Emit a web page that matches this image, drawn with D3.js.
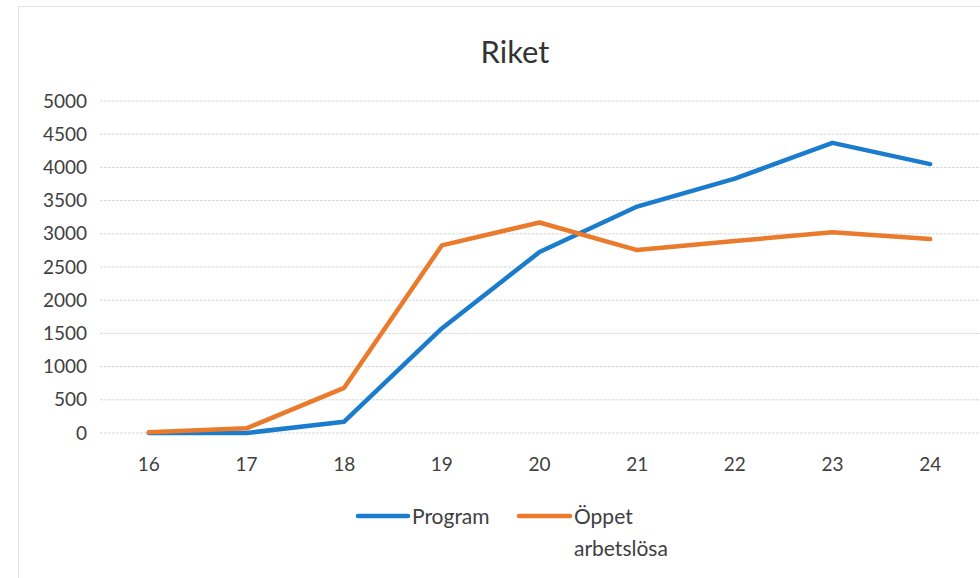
<!DOCTYPE html>
<html><head><meta charset="utf-8">
<script src="https://cdn.jsdelivr.net/npm/d3@7/dist/d3.min.js"></script>
<style>body{margin:0;background:#fff;}svg{display:block;}</style>
</head><body>
<svg id="c" width="980" height="578"></svg>
<script>
const categories = ["16","17","18","19","20","21","22","23","24"];
const program = [0, 0, 170, 1575, 2725, 3410, 3830, 4370, 4050];
const oppet = [10, 70, 680, 2825, 3170, 2755, 2890, 3025, 2920];
const yTicks = [0,500,1000,1500,2000,2500,3000,3500,4000,4500,5000];
const seriesNames = ["Program", "Öppet arbetslösa"];

const svg = d3.select("#c");
const font = "Lato, 'Open Sans', sans-serif";
const M = {left:100, right:979, top:101, bottom:433};

svg.append("rect").attr("x",18.5).attr("y",6.5).attr("width",970).attr("height",580)
  .attr("fill","#fff").attr("stroke","#e4e4e4");

const x = d3.scaleBand().domain(categories).range([M.left, M.right]);
const y = d3.scaleLinear().domain([0,5000]).range([M.bottom, M.top]);

svg.append("g").selectAll("line").data(yTicks).join("line")
  .attr("x1",M.left).attr("x2",M.right)
  .attr("y1",d=>y(d)).attr("y2",d=>y(d))
  .attr("stroke","#d9d9d9").attr("stroke-width",1).attr("stroke-dasharray","3,1");

const yAxis = svg.append("g").attr("transform",`translate(${M.left},0)`)
  .call(d3.axisLeft(y).tickValues(yTicks).tickFormat(d3.format("d")).tickSize(0).tickPadding(13));
yAxis.select(".domain").remove();
yAxis.selectAll("text").attr("font-family",font).attr("font-size",19).attr("fill","#404040");

const xAxis = svg.append("g").attr("transform",`translate(0,${M.bottom})`)
  .call(d3.axisBottom(x).tickSize(0).tickPadding(25));
xAxis.select(".domain").remove();
xAxis.selectAll("text").attr("font-family",font).attr("font-size",19).attr("fill","#404040");

const line = d3.line().x((d,i)=>x(categories[i])+x.bandwidth()/2).y(d=>y(d));
const colors = ["#1b7bcc","#ea7a2c"];
[program, oppet].forEach((s,i)=>{
  svg.append("path").datum(s).attr("d",line).attr("fill","none")
    .attr("stroke",colors[i]).attr("stroke-width",4.5)
    .attr("stroke-linejoin","round").attr("stroke-linecap","round");
});

svg.append("text").attr("x",515).attr("y",63).attr("text-anchor","middle")
  .attr("font-family",font).attr("font-size",31).attr("fill","#333").text("Riket");

// legend
const lg = svg.append("g");
lg.append("line").attr("x1",358).attr("x2",408).attr("y1",516).attr("y2",516)
  .attr("stroke",colors[0]).attr("stroke-width",4.5).attr("stroke-linecap","round");
lg.append("text").attr("x",412).attr("y",524).attr("font-family",font).attr("font-size",21)
  .attr("fill","#404040").text(seriesNames[0]);
lg.append("line").attr("x1",519).attr("x2",570).attr("y1",516).attr("y2",516)
  .attr("stroke",colors[1]).attr("stroke-width",4.5).attr("stroke-linecap","round");
const t2 = lg.append("text").attr("font-family",font).attr("font-size",21).attr("fill","#404040");
t2.append("tspan").attr("x",574).attr("y",524).text("Öppet");
t2.append("tspan").attr("x",574).attr("y",556).text("arbetslösa");
</script>
</body></html>
